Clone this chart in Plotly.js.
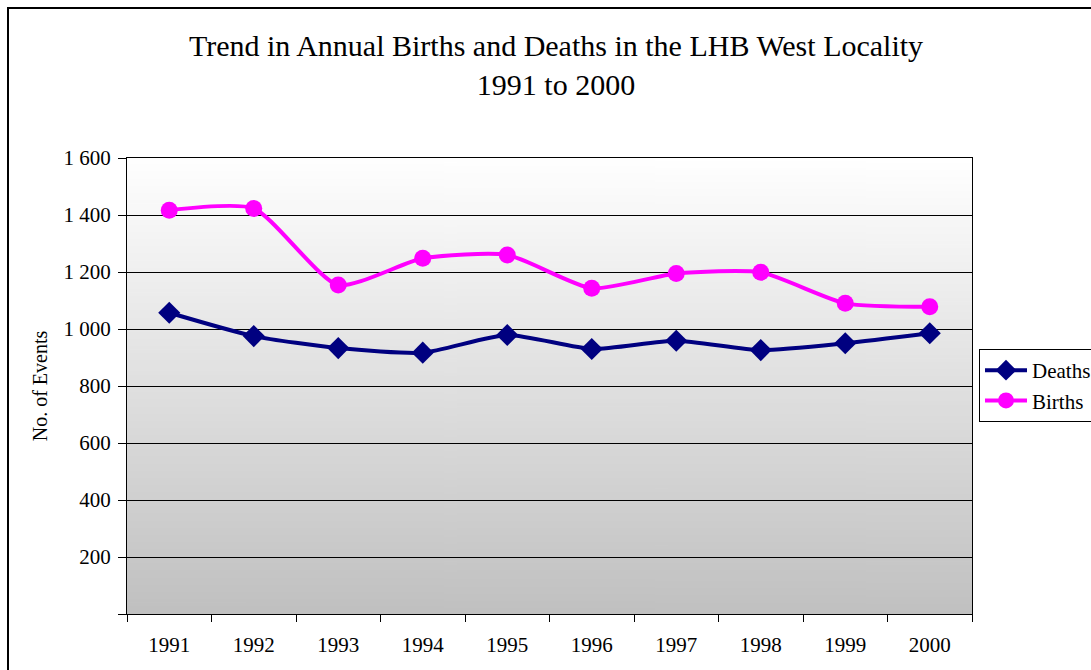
<!DOCTYPE html>
<html>
<head>
<meta charset="utf-8">
<script src="https://cdn.plot.ly/plotly-3.0.1.min.js"></script>
<style>html,body{margin:0;padding:0;background:#fff;}#chart{width:1091px;height:670px;}</style>
</head>
<body>
<div id="chart"></div>
<script>
const years = ['1991','1992','1993','1994','1995','1996','1997','1998','1999','2000'];
const deaths = [1057, 975, 933, 917, 979, 930, 959, 926, 950, 985];
const births = [1417, 1423, 1154, 1248, 1260, 1143, 1195, 1199, 1090, 1078];
const yTickVals = [0, 200, 400, 600, 800, 1000, 1200, 1400, 1600];
const yTickText = ['', '200', '400', '600', '800', '1 000', '1 200', '1 400', '1 600'];

// gradient background image
const cv = document.createElement('canvas');
cv.width = 4; cv.height = 256;
const ctx = cv.getContext('2d');
const g = ctx.createLinearGradient(0, 0, 0, 256);
g.addColorStop(0, '#ffffff');
g.addColorStop(1, '#c0c0c0');
ctx.fillStyle = g; ctx.fillRect(0, 0, 4, 256);
const bg = cv.toDataURL();

const font = 'Liberation Serif, Times New Roman, serif';
const traces = [
  {x: years, y: deaths, name: 'Deaths', type: 'scatter', mode: 'lines+markers',
   line: {color: '#000080', width: 4, shape: 'spline', smoothing: 0.6},
   marker: {symbol: 'diamond', size: 17, color: '#000080'}},
  {x: years, y: births, name: 'Births', type: 'scatter', mode: 'lines+markers',
   line: {color: '#ff00ff', width: 4, shape: 'spline', smoothing: 0.6},
   marker: {symbol: 'circle', size: 17, color: '#ff00ff'}}
];
const L = 127, R = 972, T = 158, B = 614, W = 1091, H = 670;
const pw = R - L, ph = B - T;
const layout = {
  width: W, height: H,
  margin: {l: L, r: W - R, t: T, b: H - B, pad: 0, autoexpand: false},
  paper_bgcolor: '#ffffff',
  plot_bgcolor: 'rgba(0,0,0,0)',
  font: {family: font, color: '#000', size: 21},
  title: {text: 'Trend in Annual Births and Deaths in the LHB West Locality<br>1991 to 2000',
          font: {family: font, size: 30, color: '#000'}, x: 556 / W, xref: 'container', xanchor: 'center',
          y: 1 - 56 / H, yref: 'container', yanchor: 'middle'},
  xaxis: {type: 'category', range: [-0.5, 9.5], tickson: 'boundaries', ticks: 'outside', ticklen: 7,
          tickcolor: '#000', showline: true, linecolor: '#000', linewidth: 1, mirror: true,
          showgrid: false, zeroline: false, tickfont: {family: font, size: 21}, ticklabelstandoff: 12},
  yaxis: {range: [0, 1600], tickvals: yTickVals, ticktext: yTickText, ticks: 'outside', ticklen: 8,
          tickcolor: '#000', showline: true, linecolor: '#000', linewidth: 1, mirror: true,
          showgrid: true, gridcolor: '#000', gridwidth: 1, zeroline: false,
          tickfont: {family: font, size: 21}, ticklabelstandoff: 3,
          title: {text: 'No. of Events', font: {family: font, size: 20}, standoff: 10}},
  showlegend: true,
  legend: {x: (979 - L) / pw, xanchor: 'left', y: (B - 349) / ph, yanchor: 'top',
           bgcolor: '#ffffff', bordercolor: '#000', borderwidth: 1,
           font: {family: font, size: 21}, itemwidth: 42, tracegroupgap: 0},
  images: [{source: bg, xref: 'paper', yref: 'paper', x: 0, y: 1, sizex: 1, sizey: 1,
            xanchor: 'left', yanchor: 'top', sizing: 'stretch', layer: 'below'}],
  shapes: [{type: 'rect', xref: 'paper', yref: 'paper',
            x0: (8 - L) / pw, x1: (1100 - L) / pw, y0: (B - 680) / ph, y1: (B - 8) / ph,
            line: {color: '#000', width: 2}, fillcolor: 'rgba(0,0,0,0)', layer: 'below'}]
};
Plotly.newPlot('chart', traces, layout, {displayModeBar: false, staticPlot: true});
</script>
</body>
</html>
